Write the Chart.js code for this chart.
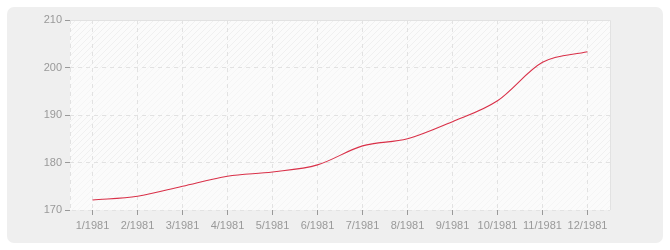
<!DOCTYPE html>
<html>
<head>
<meta charset="utf-8">
<script src="https://cdn.jsdelivr.net/npm/chart.js@4.4.1/dist/chart.umd.min.js"></script>
<style>
  html, body { margin: 0; padding: 0; background: #ffffff; }
  #populationChart { display: block; }
</style>
</head>
<body>
<canvas id="populationChart" width="670" height="250"></canvas>
<script>
// Monthly values
const months = ['1/1981', '2/1981', '3/1981', '4/1981', '5/1981', '6/1981',
                '7/1981', '8/1981', '9/1981', '10/1981', '11/1981', '12/1981'];
const values = [172.1, 172.9, 175.0, 177.1, 178.0, 179.5,
                183.5, 185.0, 188.6, 193.0, 201.1, 203.3];
const yTicks = [170, 180, 190, 200, 210];

const ctx = document.getElementById('populationChart').getContext('2d');

// Small diagonal hatch tile for the plot background
function makeHatch(color) {
    const tile = document.createElement('canvas');
    tile.width = 6;
    tile.height = 6;
    const t = tile.getContext('2d');
    t.strokeStyle = color;
    t.lineWidth = 1;
    t.beginPath();
    t.moveTo(0, 6); t.lineTo(6, 0);
    t.moveTo(-1, 1); t.lineTo(1, -1);
    t.moveTo(5, 7); t.lineTo(7, 5);
    t.stroke();
    return ctx.createPattern(tile, 'repeat');
}

const strongHatch = makeHatch('rgba(0,0,0,0.045)');
const weakHatch = makeHatch('rgba(0,0,0,0.022)');

// Draws the grey rounded panel and the banded, hatched plot area
const backgroundPlugin = {
    id: 'panelBackground',
    beforeDraw(chart) {
        const c = chart.ctx;
        const area = chart.chartArea;
        const y = chart.scales.y;
        c.save();
        c.fillStyle = '#efefef';
        c.beginPath();
        c.roundRect(7, 7, 656, 236, 7);
        c.fill();

        c.fillStyle = '#fbfbfb';
        c.fillRect(area.left, area.top, area.right - area.left, area.bottom - area.top);
        for (let i = 0; i < yTicks.length - 1; i++) {
            const top = y.getPixelForValue(yTicks[i + 1]);
            const bottom = y.getPixelForValue(yTicks[i]);
            c.fillStyle = (i % 2 === 1) ? strongHatch : weakHatch;
            c.fillRect(area.left, top, area.right - area.left, bottom - top);
        }

        c.strokeStyle = '#e2e2e2';
        c.lineWidth = 1;
        c.beginPath();
        c.moveTo(area.left, area.top + 0.5);
        c.lineTo(area.right + 0.5, area.top + 0.5);
        c.lineTo(area.right + 0.5, area.bottom);
        c.stroke();
        c.setLineDash([4, 4]);
        c.beginPath();
        c.moveTo(area.left + 0.5, area.top);
        c.lineTo(area.left + 0.5, area.bottom + 0.5);
        c.lineTo(area.right, area.bottom + 0.5);
        c.stroke();
        c.restore();
    }
};

new Chart(ctx, {
    type: 'line',
    data: {
        labels: months,
        datasets: [{
            data: values,
            borderColor: '#d93048',
            borderWidth: 1.1,
            pointRadius: 0,
            fill: false,
            cubicInterpolationMode: 'monotone'
        }]
    },
    options: {
        responsive: false,
        animation: false,
        layout: { padding: { top: 20, right: 60, left: 0, bottom: 0 } },
        plugins: {
            legend: { display: false },
            tooltip: { enabled: false }
        },
        scales: {
            x: {
                offset: true,
                afterFit: scale => { scale.height = 40; },
                grid: {
                    color: '#e2e2e2',
                    tickColor: '#999999',
                    tickLength: 5,
                    offset: false
                },
                border: { display: false, dash: [4, 4] },
                ticks: {
                    color: '#999999',
                    padding: 4,
                    maxRotation: 0,
                    autoSkip: false,
                    font: { family: 'Liberation Sans', size: 11 }
                }
            },
            y: {
                min: 170,
                max: 210,
                afterFit: scale => { scale.width = 70; },
                afterBuildTicks: scale => {
                    scale.ticks = yTicks.map(v => ({ value: v }));
                },
                grid: {
                    color: ctx2 => (ctx2.tick && (ctx2.tick.value === 170 || ctx2.tick.value === 210)) ? 'rgba(0,0,0,0)' : '#e2e2e2',
                    tickColor: '#999999',
                    tickLength: 5
                },
                border: { display: false, dash: [4, 4] },
                ticks: {
                    color: '#999999',
                    padding: 3,
                    font: { family: 'Liberation Sans', size: 11 }
                }
            }
        }
    },
    plugins: [backgroundPlugin]
});
</script>
</body>
</html>
